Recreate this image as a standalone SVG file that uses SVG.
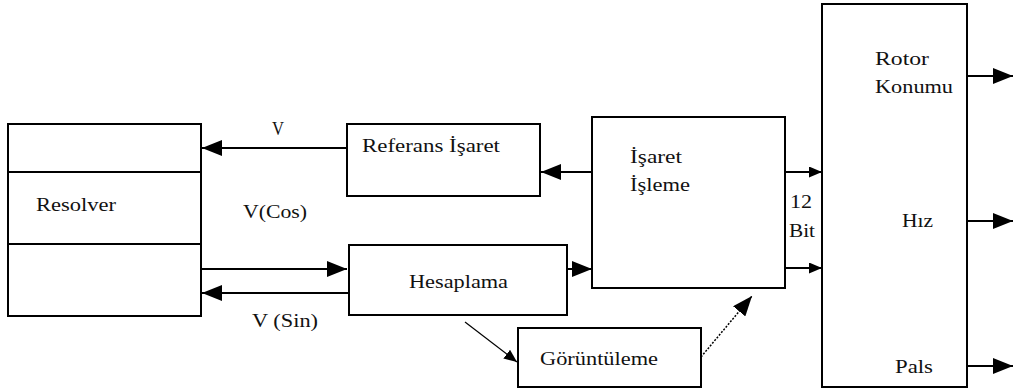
<svg xmlns="http://www.w3.org/2000/svg" width="1016" height="391" viewBox="0 0 1016 391">
<style>
.box{fill:#fff;stroke:#000;stroke-width:2}
.t{font-family:"Liberation Serif","Times New Roman",serif;font-size:18px;fill:#111}
.c{stroke:#000;stroke-width:2;fill:none}
</style>
<defs>
<marker id="big" viewBox="0 0 10 10" refX="10" refY="5" markerWidth="20" markerHeight="16" markerUnits="userSpaceOnUse" orient="auto" preserveAspectRatio="none">
<path d="M0,0 L10,5 L0,10 z" fill="#000"/>
</marker>
<marker id="small" viewBox="0 0 10 10" refX="10" refY="5" markerWidth="13" markerHeight="11" markerUnits="userSpaceOnUse" orient="auto" preserveAspectRatio="none">
<path d="M0,0 L10,5 L0,10 z" fill="#000"/>
</marker>
</defs>
<rect width="1016" height="391" fill="#fff"/>
<g id="connectors">
<line class="c" x1="347" y1="148" x2="202" y2="148" marker-end="url(#big)"/>
<line class="c" x1="202" y1="269" x2="347" y2="269" marker-end="url(#big)"/>
<line class="c" x1="349" y1="293" x2="202" y2="293" marker-end="url(#big)"/>
<line class="c" x1="592" y1="172" x2="541" y2="172" marker-end="url(#big)"/>
<line class="c" x1="567" y1="269" x2="592" y2="269" marker-end="url(#big)"/>
<line class="c" x1="785" y1="172" x2="822" y2="172" marker-end="url(#small)"/>
<line class="c" x1="785" y1="268" x2="822" y2="268" marker-end="url(#small)"/>
<line class="c" x1="967" y1="76" x2="1013" y2="76" marker-end="url(#big)"/>
<line class="c" x1="967" y1="221" x2="1013" y2="221" marker-end="url(#big)"/>
<line class="c" x1="967" y1="366" x2="1013" y2="366" marker-end="url(#big)"/>
<line x1="465" y1="322" x2="517" y2="362" stroke="#000" stroke-width="1.2" marker-end="url(#small)"/>
<line x1="701" y1="357" x2="752" y2="296" stroke="#000" stroke-width="1.5" stroke-dasharray="2,1.5" marker-end="url(#big)"/>
</g>
<g id="resolver">
<rect class="box" x="8" y="124" width="193" height="192"/>
<line class="c" x1="8" y1="172" x2="201" y2="172"/>
<line class="c" x1="8" y1="244" x2="201" y2="244"/>
<text class="t" x="36" y="211" textLength="80" lengthAdjust="spacingAndGlyphs">Resolver</text>
</g>
<g id="labels">
<text class="t" x="272" y="135" textLength="12" lengthAdjust="spacingAndGlyphs">V</text>
<text class="t" x="243" y="218" textLength="64" lengthAdjust="spacingAndGlyphs">V(Cos)</text>
<text class="t" x="252" y="327" textLength="66" lengthAdjust="spacingAndGlyphs">V (Sin)</text>
<text class="t" x="790" y="208" textLength="22" lengthAdjust="spacingAndGlyphs">12</text>
<text class="t" x="789" y="237" textLength="26" lengthAdjust="spacingAndGlyphs">Bit</text>
</g>
<g id="referans">
<rect class="box" x="347" y="124" width="193" height="72"/>
<text class="t" x="362" y="152" textLength="138" lengthAdjust="spacingAndGlyphs">Referans İşaret</text>
</g>
<g id="hesaplama">
<rect class="box" x="349" y="245" width="218" height="70"/>
<text class="t" x="409" y="288" textLength="99" lengthAdjust="spacingAndGlyphs">Hesaplama</text>
</g>
<g id="isaret-isleme">
<rect class="box" x="592" y="117" width="193" height="171"/>
<text class="t" x="630" y="163" textLength="52" lengthAdjust="spacingAndGlyphs">İşaret</text>
<text class="t" x="630" y="191" textLength="60" lengthAdjust="spacingAndGlyphs">İşleme</text>
</g>
<g id="goruntuleme">
<rect class="box" x="518" y="328" width="183" height="59"/>
<text class="t" x="540" y="365" textLength="118" lengthAdjust="spacingAndGlyphs">Görüntüleme</text>
</g>
<g id="cikis">
<rect class="box" x="822" y="4" width="145" height="383"/>
<text class="t" x="875" y="65" textLength="54" lengthAdjust="spacingAndGlyphs">Rotor</text>
<text class="t" x="875" y="93" textLength="78" lengthAdjust="spacingAndGlyphs">Konumu</text>
<text class="t" x="902" y="227" textLength="31" lengthAdjust="spacingAndGlyphs">Hız</text>
<text class="t" x="895" y="373" textLength="38" lengthAdjust="spacingAndGlyphs">Pals</text>
</g>
</svg>
